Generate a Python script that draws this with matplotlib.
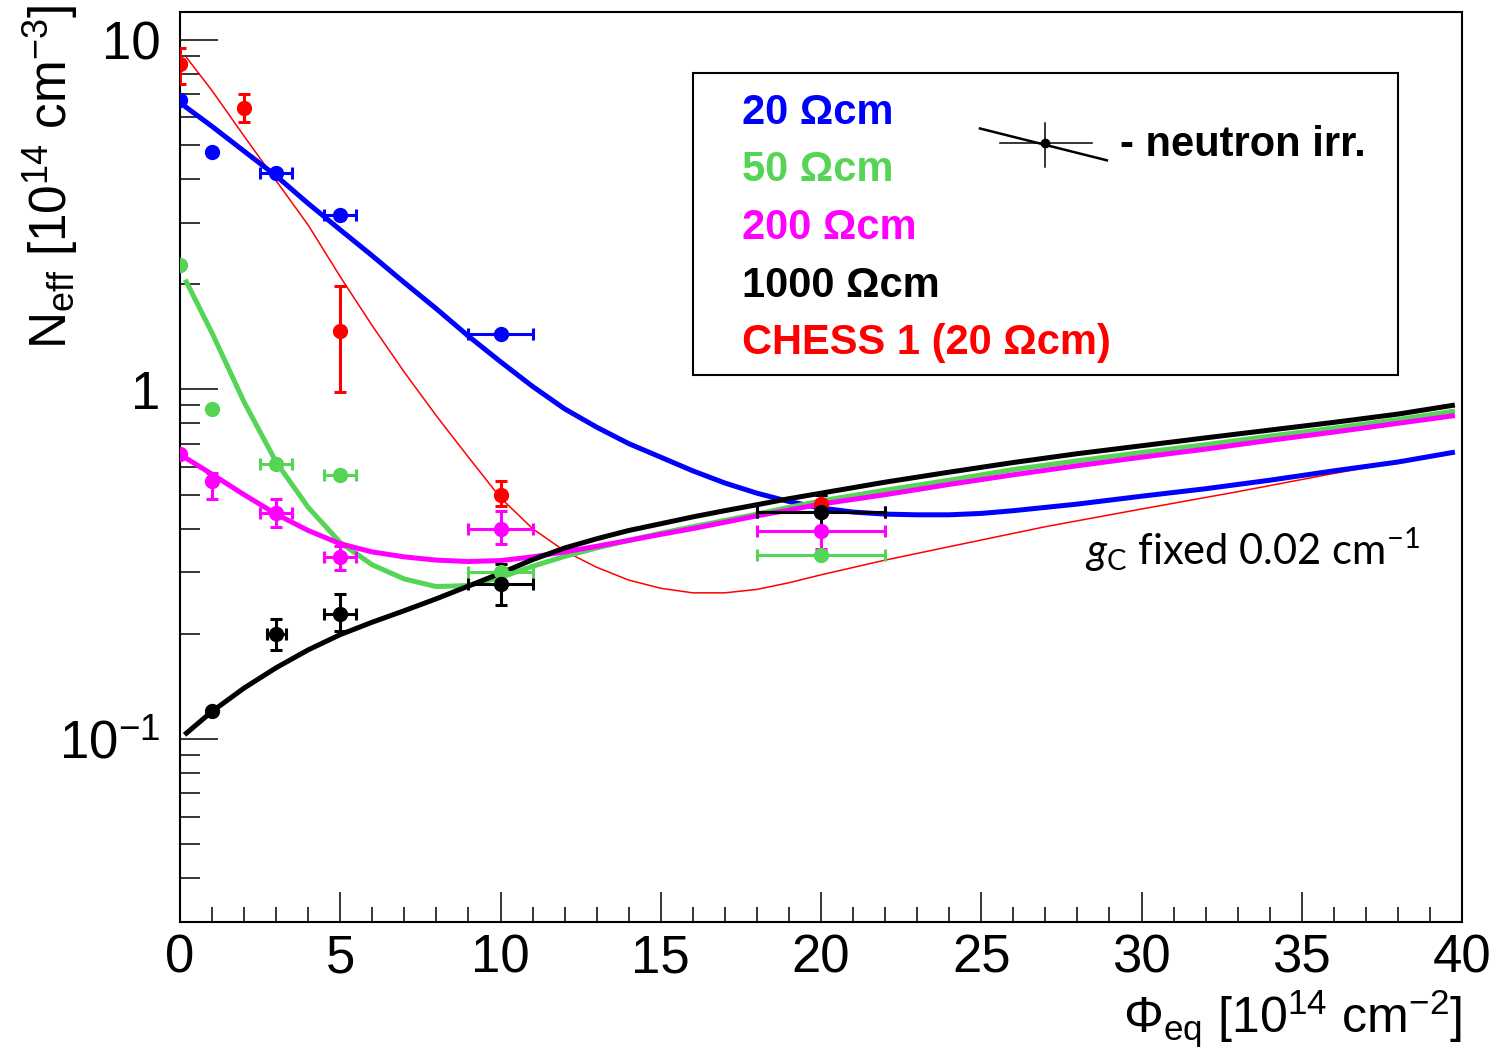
import numpy as np
import matplotlib
matplotlib.use("Agg")
import matplotlib.pyplot as plt
from matplotlib.patches import Rectangle
from matplotlib.lines import Line2D
from matplotlib.ticker import FixedLocator, FixedFormatter, LogLocator, MultipleLocator, NullFormatter

plt.rcParams["font.family"] = ["Liberation Sans", "DejaVu Sans"]
plt.rcParams["mathtext.fontset"] = "custom"
plt.rcParams["mathtext.rm"] = "Liberation Sans"
plt.rcParams["mathtext.it"] = "Lato:italic"
plt.rcParams["mathtext.bf"] = "Liberation Sans:bold"

BLUE = "#0000ff"
GREEN = "#55d455"
MAGENTA = "#ff00ff"
BLACK = "#000000"
RED = "#ff0000"

# measured points: fluence [1e14 cm-2], Neff [1e14 cm-3]
blue_x = [0, 1, 3, 5, 10, 20]
blue_y = [6.72, 4.78, 4.17, 3.16, 1.44, 0.446]
blue_xerr = [0, 0, 0.5, 0.5, 1, 2]

green_x = [0, 1, 3, 5, 10, 20]
green_y = [2.27, 0.88, 0.61, 0.57, 0.30, 0.336]
green_xerr = [0, 0, 0.5, 0.5, 1, 2]

mag_x = [0, 1, 3, 5, 10, 20]
mag_y = [0.652, 0.546, 0.443, 0.332, 0.40, 0.394]
mag_lo = [0.652, 0.486, 0.404, 0.305, 0.361, 0.35]
mag_hi = [0.652, 0.576, 0.486, 0.356, 0.449, 0.44]
mag_xerr = [0, 0, 0.5, 0.5, 1, 2]

blk_x = [1, 3, 5, 10, 20]
blk_y = [0.12, 0.20, 0.228, 0.278, 0.446]
blk_lo = [0.12, 0.18, 0.204, 0.242, 0.386]
blk_hi = [0.12, 0.22, 0.26, 0.317, 0.50]
blk_xerr = [0, 0.3, 0.5, 1, 2]

red_x = [0, 2, 5, 10, 20]
red_y = [8.53, 6.38, 1.47, 0.50, 0.47]
red_lo = [7.46, 5.82, 0.98, 0.464, 0.44]
red_hi = [9.46, 7.0, 1.97, 0.546, 0.50]

# fit curves
fit_blue_x = [0.2, 1, 2, 3, 4, 5, 6, 7, 8, 9, 10, 11, 12, 13, 14, 15, 16, 17, 18, 19, 20, 21, 22,
              23, 24, 25, 26, 28, 30, 32, 34, 36, 38, 39.7]
fit_blue_y = [6.4, 5.65, 4.8, 4.08, 3.4, 2.86, 2.41, 2.02, 1.7, 1.42, 1.2, 1.02, 0.88, 0.78, 0.70,
              0.64, 0.585, 0.54, 0.505, 0.478, 0.458, 0.446, 0.44, 0.438, 0.438, 0.442, 0.45, 0.47,
              0.495, 0.52, 0.55, 0.585, 0.62, 0.66]

fit_green_x = [0.2, 1, 2, 3, 4, 5, 6, 7, 8, 9, 10, 11, 12, 13, 14, 15, 16, 17, 18, 19, 20, 22, 24,
               26, 28, 30, 32, 34, 36, 38, 39.7]
fit_green_y = [2.03, 1.45, 0.92, 0.62, 0.46, 0.365, 0.315, 0.287, 0.273, 0.275, 0.29, 0.312, 0.333,
               0.352, 0.37, 0.388, 0.405, 0.422, 0.44, 0.46, 0.48, 0.515, 0.55, 0.59, 0.625, 0.66,
               0.695, 0.735, 0.775, 0.82, 0.865]

fit_mag_x = [0.2, 1, 2, 3, 4, 5, 6, 7, 8, 9, 10, 11, 12, 13, 14, 15, 16, 17, 18, 19, 20, 22, 24,
             26, 28, 30, 32, 34, 36, 38, 39.7]
fit_mag_y = [0.635, 0.572, 0.50, 0.44, 0.395, 0.362, 0.343, 0.332, 0.325, 0.322, 0.324, 0.332,
             0.343, 0.356, 0.37, 0.385, 0.40, 0.417, 0.435, 0.452, 0.47, 0.50, 0.535, 0.57, 0.605,
             0.64, 0.675, 0.715, 0.755, 0.80, 0.84]

fit_blk_x = [0.2, 1, 2, 3, 4, 5, 6, 7, 8, 9, 10, 11, 12, 13, 14, 15, 16, 17, 18, 19, 20, 22, 24,
             26, 28, 30, 32, 34, 36, 38, 39.7]
fit_blk_y = [0.104, 0.12, 0.14, 0.16, 0.18, 0.199, 0.216, 0.233, 0.252, 0.274, 0.298, 0.326, 0.352,
             0.374, 0.395, 0.413, 0.432, 0.45, 0.468, 0.487, 0.505, 0.543, 0.58, 0.618, 0.655,
             0.69, 0.727, 0.765, 0.805, 0.85, 0.90]

fit_red_x = [0.2, 1, 2, 3, 4, 5, 6, 7, 8, 9, 10, 11, 12, 13, 14, 15, 16, 17, 18, 19, 20, 22, 24,
             27, 30, 33, 36, 39.7]
fit_red_y = [8.9, 7.15, 5.3, 3.95, 2.95, 2.1, 1.52, 1.12, 0.84, 0.64, 0.49, 0.40, 0.345, 0.31,
             0.285, 0.27, 0.262, 0.262, 0.268, 0.28, 0.295, 0.325, 0.355, 0.405, 0.455, 0.51,
             0.575, 0.66]

legend_labels = ["20 Ωcm", "50 Ωcm", "200 Ωcm", "1000 Ωcm", "CHESS 1 (20 Ωcm)"]
legend_colors = [BLUE, GREEN, MAGENTA, BLACK, RED]

fig = plt.figure(figsize=(14.93, 10.51), dpi=100)
ax = fig.add_axes([180 / 1493, 1 - 922 / 1051, 1282 / 1493, 910 / 1051])
ax.set_yscale("log")
ax.set_xlim(0, 40)
ax.set_ylim(0.03, 12)

# fits
ax.plot(fit_red_x, fit_red_y, color=RED, lw=1.1, zorder=2)
ax.plot(fit_blue_x, fit_blue_y, color=BLUE, lw=3.6, zorder=3)
ax.plot(fit_green_x, fit_green_y, color=GREEN, lw=3.6, zorder=3)
ax.plot(fit_mag_x, fit_mag_y, color=MAGENTA, lw=3.6, zorder=3)
ax.plot(fit_blk_x, fit_blk_y, color=BLACK, lw=3.6, zorder=4)

ekw = dict(fmt="o", ms=10, elinewidth=2.2, capsize=4, capthick=2.2, zorder=5)


def asym(y, lo, hi):
    y = np.array(y)
    return [y - np.array(lo), np.array(hi) - y]


ax.errorbar(blue_x, blue_y, xerr=blue_xerr, color=BLUE, **ekw)
ax.errorbar(green_x, green_y, xerr=green_xerr, color=GREEN, **ekw)
ax.errorbar(mag_x, mag_y, xerr=mag_xerr, yerr=asym(mag_y, mag_lo, mag_hi), color=MAGENTA, **ekw)
ax.errorbar(red_x, red_y, yerr=asym(red_y, red_lo, red_hi), color=RED, **ekw)
ax.errorbar(blk_x, blk_y, xerr=blk_xerr, yerr=asym(blk_y, blk_lo, blk_hi), color=BLACK, **ekw)

# axes styling
for s in ax.spines.values():
    s.set_linewidth(1.5)
ax.xaxis.set_major_locator(MultipleLocator(5))
ax.xaxis.set_minor_locator(MultipleLocator(1))
ax.yaxis.set_major_locator(FixedLocator([0.1, 1, 10]))
ax.yaxis.set_major_formatter(FixedFormatter([r"$10^{-1}$", "1", "10"]))
ax.yaxis.set_minor_locator(LogLocator(base=10, subs=np.arange(2, 10), numticks=20))
ax.yaxis.set_minor_formatter(NullFormatter())
ax.tick_params(which="both", direction="in", top=False, right=False, width=1.1, labelsize=38)
ax.tick_params(axis="x", which="major", length=21.6, pad=8)
ax.tick_params(axis="x", which="minor", length=10.8)
ax.tick_params(axis="y", which="major", length=27, pad=14)
ax.tick_params(axis="y", which="minor", length=14.4)

fig.text(50 / 1493, 1 - 5 / 1051, r"N$_\mathregular{eff}$ [10$^\mathregular{14}$ cm$^\mathregular{-3}$]",
         rotation=90, ha="center", va="top", fontsize=37)
fig.text(1462 / 1493, 1 - 1033 / 1051, r"Φ$_\mathregular{eq}$ [10$^\mathregular{14}$ cm$^\mathregular{-2}$]",
         ha="right", va="baseline", fontsize=36)

# legend box
ax.add_patch(Rectangle((0.400, 0.601), 0.550, 0.332, transform=ax.transAxes,
                       facecolor="white", edgecolor="black", lw=1.5, zorder=6))
rows = [0.889, 0.826, 0.763, 0.699, 0.636]
for lab, col, yy in zip(legend_labels, legend_colors, rows):
    ax.text(0.438, yy, lab, color=col, fontsize=30, fontweight="bold",
            transform=ax.transAxes, va="center", ha="left", zorder=7)

ax.add_line(Line2D([0.624, 0.723], [0.872, 0.837], transform=ax.transAxes, color="black", lw=1.8, zorder=7))
ax.add_line(Line2D([0.640, 0.711], [0.856, 0.856], transform=ax.transAxes, color="black", lw=1.1, zorder=7))
ax.add_line(Line2D([0.675, 0.675], [0.830, 0.878], transform=ax.transAxes, color="black", lw=1.1, zorder=7))
ax.add_line(Line2D([0.675], [0.856], transform=ax.transAxes, marker="o", ms=6, color="black", zorder=8))
ax.text(0.733, 0.854, "- neutron irr.", fontsize=30, fontweight="bold", transform=ax.transAxes,
        va="center", ha="left", zorder=7)

ax.text(0.706, 0.409, r"$g_\mathregular{C}$ fixed 0.02 cm$^\mathregular{-1}$", fontsize=30,
        family=["Lato", "DejaVu Sans"], transform=ax.transAxes, va="center", ha="left", zorder=7)

fig.savefig("out.png", dpi=100)
plt.close()
